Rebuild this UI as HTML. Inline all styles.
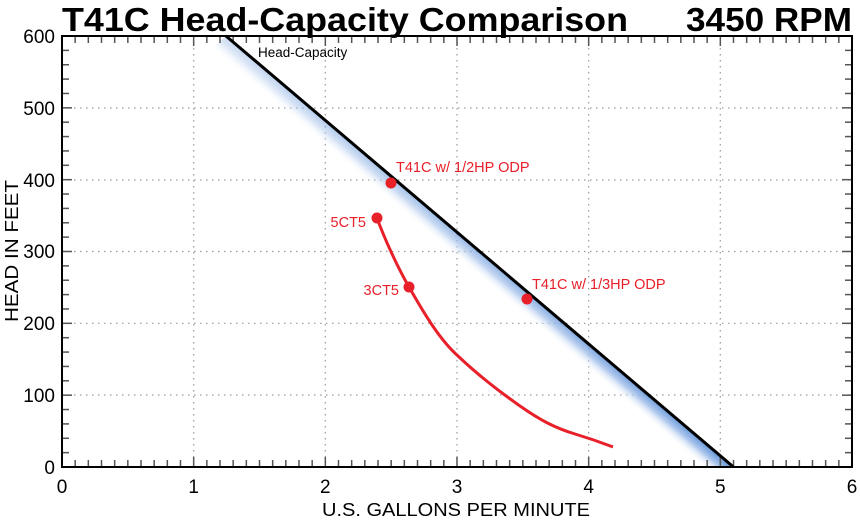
<!DOCTYPE html>
<html><head><style>body{margin:0;background:#fff}svg{display:block}</style></head><body>
<svg width="860" height="522" xmlns="http://www.w3.org/2000/svg" font-family="Liberation Sans, Arial, sans-serif">
<defs>
<clipPath id="c"><rect x="62" y="36" width="790" height="431"/></clipPath>
<linearGradient id="g" gradientUnits="userSpaceOnUse" x1="480" y1="251" x2="467" y2="266.3">
<stop offset="0" stop-color="#5b8fd6"/><stop offset="0.45" stop-color="#a9c4ec"/><stop offset="1" stop-color="#fff" stop-opacity="0"/></linearGradient>
<linearGradient id="m" gradientUnits="userSpaceOnUse" x1="226" y1="36" x2="733" y2="467">
<stop offset="0" stop-color="#fff" stop-opacity="0.35"/><stop offset="1" stop-color="#fff" stop-opacity="1"/></linearGradient>
<mask id="mk"><rect x="0" y="0" width="860" height="522" fill="url(#m)"/></mask>
</defs>
<text x="62" y="31" font-size="33" font-weight="bold" textLength="566" lengthAdjust="spacingAndGlyphs">T41C Head-Capacity Comparison</text>
<text x="686" y="31" font-size="33" font-weight="bold" textLength="166" lengthAdjust="spacingAndGlyphs">3450 RPM</text>
<g stroke="#999" stroke-width="1.2" stroke-dasharray="1.5,4.5">
<line x1="193.7" y1="36" x2="193.7" y2="467"/><line x1="325.3" y1="36" x2="325.3" y2="467"/><line x1="457" y1="36" x2="457" y2="467"/><line x1="588.7" y1="36" x2="588.7" y2="467"/><line x1="720.3" y1="36" x2="720.3" y2="467"/>
<line x1="62" y1="108" x2="852" y2="108"/><line x1="62" y1="180" x2="852" y2="180"/><line x1="62" y1="251.5" x2="852" y2="251.5"/><line x1="62" y1="323.3" x2="852" y2="323.3"/><line x1="62" y1="395" x2="852" y2="395"/>
</g>
<g clip-path="url(#c)" mask="url(#mk)">
<polygon points="226,36 733.5,467 700,467 210,50" fill="url(#g)"/>
</g>
<g id="ticks" stroke="#555" stroke-width="1.5"></g>
<line x1="226" y1="36" x2="733.5" y2="467" stroke="#000" stroke-width="3"/>
<rect x="62" y="36" width="790" height="431" fill="none" stroke="#000" stroke-width="2"/>
<path d="M377,218 C385,240 398,268 409,287 C425,315 440,340 458,356 C480,377 500,392 520,406 C540,420 555,428 575,434 C595,440 605,444 613,447" fill="none" stroke="#e8202a" stroke-width="3" stroke-linejoin="round"/>
<g fill="#e8202a"><circle cx="377" cy="218" r="5.5"/><circle cx="409" cy="287" r="5.5"/><circle cx="391" cy="183" r="5.5"/><circle cx="527" cy="299" r="5.5"/></g>
<g fill="#e8202a" font-size="14.5"><text x="396" y="172">T41C w/ 1/2HP ODP</text><text x="532" y="289">T41C w/ 1/3HP ODP</text><text x="366" y="227" text-anchor="end">5CT5</text><text x="399" y="295" text-anchor="end">3CT5</text></g>
<text x="258" y="57" font-size="13.5">Head-Capacity</text>
<g font-size="19" text-anchor="middle"><text x="62" y="493">0</text><text x="193.7" y="493">1</text><text x="325.3" y="493">2</text><text x="457" y="493">3</text><text x="588.7" y="493">4</text><text x="720.3" y="493">5</text><text x="852" y="493">6</text></g>
<g font-size="19" text-anchor="end"><text x="55" y="43">600</text><text x="55" y="115">500</text><text x="55" y="187">400</text><text x="55" y="258">300</text><text x="55" y="330">200</text><text x="55" y="402">100</text><text x="55" y="474">0</text></g>
<text x="322" y="516" font-size="18" textLength="268" lengthAdjust="spacingAndGlyphs">U.S. GALLONS PER MINUTE</text>
<text transform="translate(18,322) rotate(-90)" font-size="18" textLength="142" lengthAdjust="spacingAndGlyphs">HEAD IN FEET</text>
</svg>
<script>
var g=document.getElementById('ticks'),s='';
for(var i=0;i<=60;i++){var x=62+i*790/60,l=i%10?7:10;s+='<line x1="'+x+'" y1="467" x2="'+x+'" y2="'+(467-l)+'"/><line x1="'+x+'" y1="36" x2="'+x+'" y2="'+(36+l)+'"/>';}
for(var j=0;j<=30;j++){var y=467-j*431/30,l=j%5?7:10;s+='<line x1="62" y1="'+y+'" x2="'+(62+l)+'" y2="'+y+'"/><line x1="852" y1="'+y+'" x2="'+(852-l)+'" y2="'+y+'"/>';}
g.innerHTML=s;
</script>
</body></html>
